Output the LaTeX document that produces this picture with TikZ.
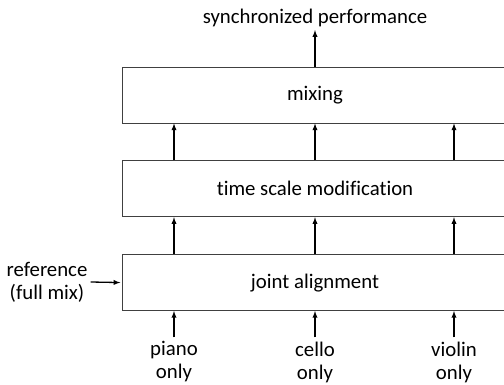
\documentclass[tikz,border=0pt]{standalone}
\usepackage{fontspec}
\setmainfont[Ligatures=NoCommon]{Carlito}
\usetikzlibrary{arrows,positioning}

\begin{document}
\begin{tikzpicture}[x=1pt,y=-1pt,
    block/.style={draw=black!75, line width=0.8pt, minimum width=384.5pt,
      minimum height=56pt, inner sep=0pt},
    flow/.style={->, >=latex, line width=1.3pt},
    lbl/.style={align=center, inner sep=3pt},
    font=\fontsize{20.8}{23}\selectfont]
  \useasboundingbox (0,0) rectangle (504,385);
  \node (mix) [block] at (315,95) {mixing};
  \node (tsm) [block, below=37pt of mix] {time scale modification};
  \node (joint) [block, below=37pt of tsm] {joint alignment};
  \node (out) [lbl] at (315,18) {synchronized performance};
  \node (ref) [lbl] at (47,282) {reference\\(full mix)};
  \node (piano) [lbl] at (174,362) {piano\\only};
  \node (cello) [lbl] at (315,362) {cello\\only};
  \node (violin) [lbl] at (454,362) {violin\\only};
  % signal flow between the stages
  \foreach \dx in {-141,0,139} {
    \draw[flow] ([xshift=\dx pt]joint.north) -- ([xshift=\dx pt]tsm.south);
    \draw[flow] ([xshift=\dx pt]tsm.north) -- ([xshift=\dx pt]mix.south);
  }
  \draw[flow] (mix.north) -- (out.south);
  \draw[flow, shorten >=2pt] (ref.east) -- (joint.west);
  \foreach \s in {piano,cello,violin}
    \draw[flow, shorten <=1pt] (\s.north) -- (\s.north |- joint.south);
\end{tikzpicture}
\end{document}
